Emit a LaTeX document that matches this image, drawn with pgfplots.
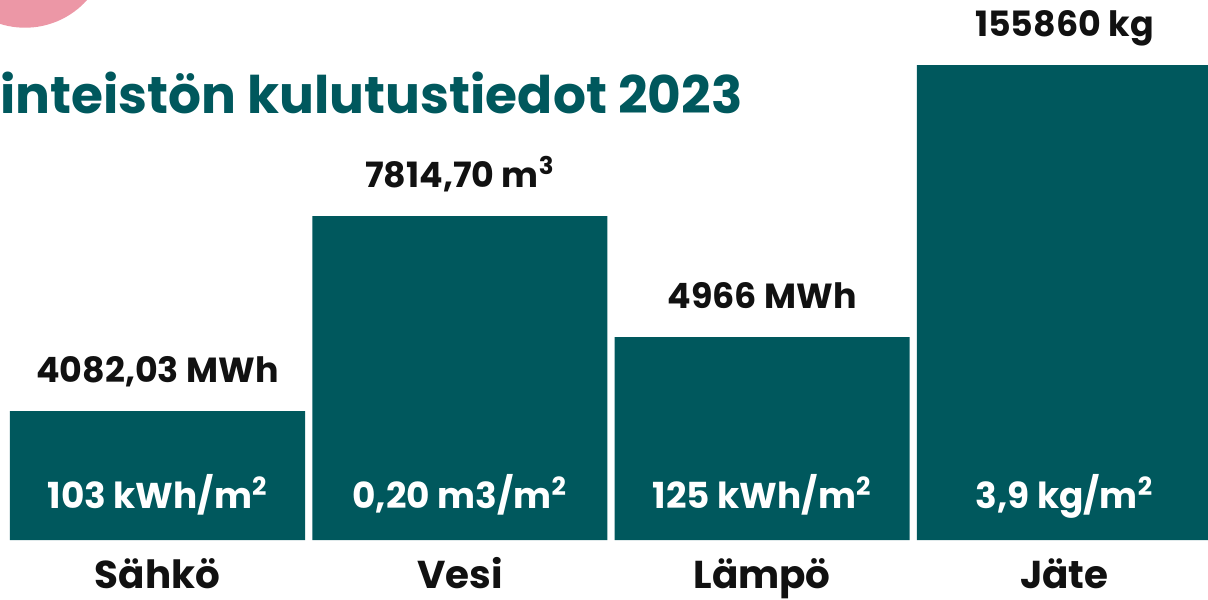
\documentclass[border=0pt]{standalone}
\usepackage{pgfplots}
\pgfplotsset{compat=1.18}
\usepackage{fontspec}
\setmainfont{Poppins}
\definecolor{teal1}{HTML}{00585D}
\definecolor{pink1}{HTML}{EC97A6}
\definecolor{ink}{HTML}{111111}
\begin{document}
\begin{tikzpicture}
\begin{axis}[
  at={(0,0)}, anchor=south west,
  scale only axis, width=604bp, height=300bp,
  xmin=-0.521, xmax=3.475, ymin=-60, ymax=540,
  hide axis, clip=true,
]
\fill[pink1] (axis cs:-0.438,595.5) circle[radius=41.6bp];
% bars with top labels
\addplot[ybar, bar width=0.976, fill=teal1, draw=none,
  point meta=explicit symbolic,
  nodes near coords,
  every node near coord/.style={anchor=base, inner sep=0pt, yshift=14.5bp, font=\bfseries\fontsize{17.5}{20}\selectfont, text=ink}]
  coordinates {
  (0,129) [{4082,03 MWh}]
  (1,324) [{7814,70 m\textsuperscript{3}}]
  (2,203) [{4966 MWh}]
  (3,475) [{155860 kg}]
};
% inner labels
\addplot[draw=none, mark=none,
  point meta=explicit symbolic,
  nodes near coords,
  every node near coord/.style={anchor=base, inner sep=0pt, font=\bfseries\fontsize{18}{21}\selectfont, text=white}]
  coordinates {
  (0,32) [{103 kWh/m\textsuperscript{2}}]
  (1,32) [{0,20 m3/m\textsuperscript{2}}]
  (2,32) [{125 kWh/m\textsuperscript{2}}]
  (3,32) [{3,9 kg/m\textsuperscript{2}}]
};
% category labels
\addplot[draw=none, mark=none,
  point meta=explicit symbolic,
  nodes near coords,
  every node near coord/.style={anchor=base, inner sep=0pt, font=\bfseries\fontsize{19.5}{22}\selectfont, text=ink}]
  coordinates {
  (0,-48) [Sähkö]
  (1,-48) [Vesi]
  (2,-48) [Lämpö]
  (3,-48) [Jäte]
};
\node[anchor=base west, inner sep=0pt, text=teal1, font=\bfseries\fontsize{26}{32}\selectfont]
  at (axis cs:-0.521,427) {inteistön kulutustiedot 2023};
\end{axis}
\pgfresetboundingbox
\path (0,0) rectangle (604bp,300bp);
\end{tikzpicture}
\end{document}
